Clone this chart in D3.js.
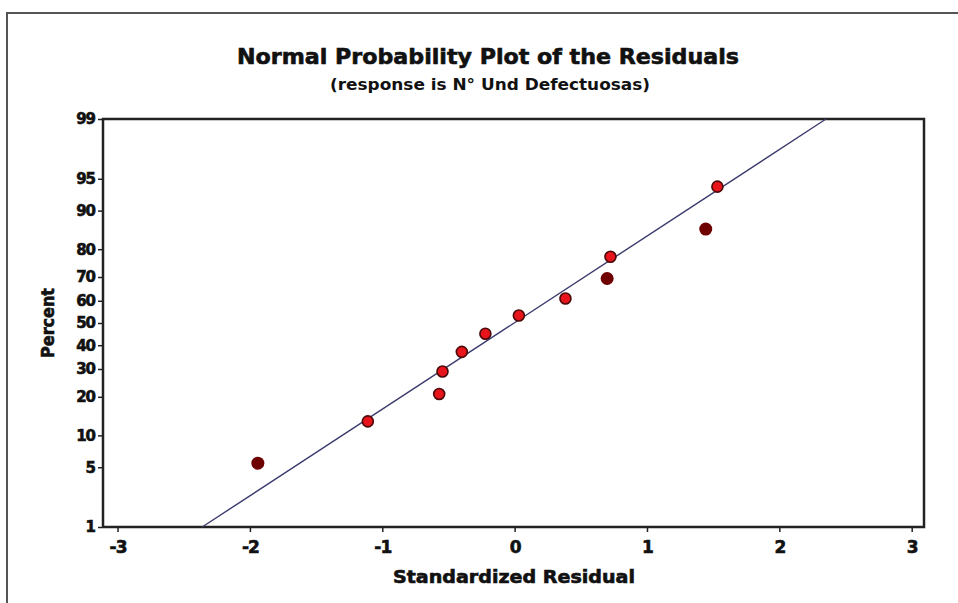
<!DOCTYPE html>
<html lang="es">
<head>
    <meta charset="UTF-8">
    <title>Normal Probability Plot of the Residuals</title>
    <script src="https://d3js.org/d3.v7.min.js"></script>
    <style>
        body {
            margin: 0;
            background: #fff;
        }
        svg text {
            font-family: "DejaVu Sans", Verdana, sans-serif;
            fill: #111;
        }
        .tick text {
            font-weight: bold;
            letter-spacing: -1px;
        }
        .heavy {
            stroke: #111;
            stroke-width: 0.6px;
        }
    </style>
</head>
<body>
    <div id="chart"></div>
    <script>
        // residuos estandarizados y su percentil
        const residuals = [-1.94, -1.109, -0.570, -0.545, -0.399, -0.221, 0.032, 0.384, 0.699, 0.724, 1.444, 1.532];
        const percents = [5.5, 13.1, 20.9, 29.0, 37.1, 45.1, 53.4, 61.0, 69.4, 77.5, 85.8, 94.0];
        // puntos que salen en granate oscuro
        const darkPoints = [true, false, false, false, false, false, false, false, true, false, true, false];
        const percentTicks = [1, 5, 10, 20, 30, 40, 50, 60, 70, 80, 90, 95, 99];
        const xTicks = [-3, -2, -1, 0, 1, 2, 3];
        // recta ajustada (media y desviacion)
        const fitMean = -0.004;
        const fitSd = 1.013;

        const width = 958;
        const height = 603;
        const plot = { left: 103, right: 924, top: 119, bottom: 527 };

        // inversa de la normal (aprox. de Acklam)
        function probit(p) {
            const a = [-39.6968302866538, 220.946098424521, -275.928510446969, 138.357751867269, -30.6647980661472, 2.50662827745924];
            const b = [-54.4760987982241, 161.585836858041, -155.698979859887, 66.8013118877197, -13.2806815528857];
            const c = [-0.00778489400243029, -0.322396458041136, -2.40075827716184, -2.54973253934373, 4.37466414146497, 2.93816398269878];
            const d = [0.00778469570904146, 0.32246712907004, 2.445134137143, 3.75440866190742];
            const pl = 0.02425;
            let q, r;
            if (p < pl) {
                q = Math.sqrt(-2 * Math.log(p));
                return (((((c[0]*q+c[1])*q+c[2])*q+c[3])*q+c[4])*q+c[5]) / ((((d[0]*q+d[1])*q+d[2])*q+d[3])*q+1);
            } else if (p <= 1 - pl) {
                q = p - 0.5; r = q * q;
                return (((((a[0]*r+a[1])*r+a[2])*r+a[3])*r+a[4])*r+a[5])*q / (((((b[0]*r+b[1])*r+b[2])*r+b[3])*r+b[4])*r+1);
            } else {
                q = Math.sqrt(-2 * Math.log(1 - p));
                return -(((((c[0]*q+c[1])*q+c[2])*q+c[3])*q+c[4])*q+c[5]) / ((((d[0]*q+d[1])*q+d[2])*q+d[3])*q+1);
            }
        }

        const x = d3.scaleLinear()
            .domain([-3.11, 3.093])
            .range([plot.left, plot.right]);

        // eje y en escala probit: se trabaja con z
        const y = d3.scaleLinear()
            .domain([probit(0.01), probit(0.99)])
            .range([plot.bottom, plot.top]);

        const svg = d3.select("#chart")
            .append("svg")
            .attr("width", width)
            .attr("height", height);

        // marco exterior
        svg.append("rect")
            .attr("x", 7)
            .attr("y", 13)
            .attr("width", width + 20)
            .attr("height", height + 20)
            .attr("fill", "none")
            .attr("stroke", "#555")
            .attr("stroke-width", 2);

        // titulos
        svg.append("text")
            .attr("class", "heavy")
            .attr("x", 488)
            .attr("y", 64)
            .attr("text-anchor", "middle")
            .attr("font-size", 21)
            .attr("font-weight", "bold")
            .attr("textLength", 502)
            .attr("lengthAdjust", "spacingAndGlyphs")
            .text("Normal Probability Plot of the Residuals");

        svg.append("text")
            .attr("x", 490)
            .attr("y", 90)
            .attr("text-anchor", "middle")
            .attr("font-size", 16)
            .attr("font-weight", "bold")
            .attr("textLength", 320)
            .attr("lengthAdjust", "spacingAndGlyphs")
            .text("(response is N° Und Defectuosas)");

        // ejes
        const xAxis = d3.axisBottom(x)
            .tickValues(xTicks)
            .tickFormat(d => String(d))
            .tickSize(4)
            .tickPadding(9);

        const yAxis = d3.axisLeft(y)
            .tickValues(percentTicks.map(p => probit(p / 100)))
            .tickFormat((d, i) => percentTicks[i])
            .tickSize(4)
            .tickPadding(3);

        const gx = svg.append("g")
            .attr("transform", `translate(0, ${plot.bottom + 1})`)
            .call(xAxis);
        gx.select(".domain").remove();
        gx.selectAll(".tick line").attr("stroke", "#222").attr("stroke-width", 1.5);
        gx.selectAll(".tick text").attr("font-size", 17).attr("class", "heavy");

        const gy = svg.append("g")
            .attr("transform", `translate(${plot.left - 1}, 0)`)
            .call(yAxis);
        gy.select(".domain").remove();
        gy.selectAll(".tick line").attr("stroke", "#222").attr("stroke-width", 1.5);
        gy.selectAll(".tick text").attr("font-size", 15).attr("class", "heavy");

        // caja del grafico
        svg.append("rect")
            .attr("x", plot.left)
            .attr("y", plot.top)
            .attr("width", plot.right - plot.left)
            .attr("height", plot.bottom - plot.top)
            .attr("fill", "none")
            .attr("stroke", "#222")
            .attr("stroke-width", 2.5);

        svg.append("text")
            .attr("class", "heavy")
            .attr("x", 514)
            .attr("y", 583)
            .attr("text-anchor", "middle")
            .attr("font-size", 17)
            .attr("font-weight", "bold")
            .attr("textLength", 242)
            .attr("lengthAdjust", "spacingAndGlyphs")
            .text("Standardized Residual");

        svg.append("text")
            .attr("class", "heavy")
            .attr("transform", `translate(54, 323) rotate(-90)`)
            .attr("text-anchor", "middle")
            .attr("font-size", 17)
            .attr("font-weight", "bold")
            .attr("textLength", 70)
            .attr("lengthAdjust", "spacingAndGlyphs")
            .text("Percent");

        // recta ajustada entre 1% y 99%
        const zLo = probit(0.01), zHi = probit(0.99);
        svg.append("line")
            .attr("x1", x(fitMean + fitSd * zLo))
            .attr("y1", y(zLo))
            .attr("x2", x(fitMean + fitSd * zHi))
            .attr("y2", y(zHi))
            .attr("stroke", "#3b3b6e")
            .attr("stroke-width", 1.4);

        // puntos
        svg.selectAll("circle.pt")
            .data(residuals.map((r, i) => ({ r: r, p: percents[i], dark: darkPoints[i] })))
            .enter()
            .append("circle")
            .attr("class", "pt")
            .attr("cx", d => x(d.r))
            .attr("cy", d => y(probit(d.p / 100)))
            .attr("r", d => d.dark ? 6.5 : 5.5)
            .attr("fill", d => d.dark ? "#6e0000" : "#e8141c")
            .attr("stroke", d => d.dark ? "none" : "#4a0808")
            .attr("stroke-width", 1.6);
    </script>
</body>
</html>
